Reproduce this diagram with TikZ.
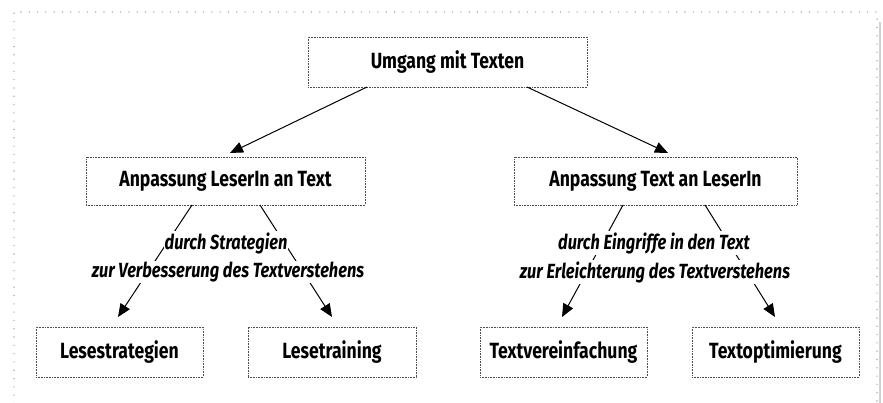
\documentclass[tikz,border=0pt]{standalone}
\usepackage{fontspec}
\setmainfont{Fira Sans}[FakeStretch=0.8]
\usetikzlibrary{arrows.meta}
\begin{document}
\begin{tikzpicture}[
  box/.style={draw=black!70, line width=0.6pt, dash pattern=on 0.6pt off 1pt, fill=white,
    font=\fontsize{22}{24}\selectfont\bfseries, inner sep=0pt},
  lbl/.style={fill=white, inner sep=1pt, font=\fontsize{20.5}{23}\selectfont\bfseries\itshape},
  conn/.style={line width=1pt, -{Triangle[length=13pt,width=11pt]}}]
\useasboundingbox (0pt,0pt) rectangle (883pt,-403pt);
% outer frame
\draw[gray!60, line width=1.6pt, line cap=round, dash pattern=on 0pt off 8.3pt] (14pt,-420pt) -- (14pt,-12pt) -- (877pt,-12pt) -- (877pt,-420pt);
\draw[gray!35, line width=2pt] (879.5pt,-22pt) -- (879.5pt,-420pt);
% boxes
\node[box, minimum width=279pt, minimum height=50pt] (top) at (447.5pt,-62pt) {Umgang mit Texten};
\node[box, minimum width=279pt, minimum height=48pt] (l) at (225.5pt,-181pt) {Anpassung LeserIn an Text};
\node[box, minimum width=283pt, minimum height=48pt] (r) at (655.5pt,-181pt) {Anpassung Text an LeserIn};
\node[box, minimum width=167pt, minimum height=50pt] (ll) at (119.5pt,-352pt) {Lesestrategien};
\node[box, minimum width=168pt, minimum height=50pt] (lr) at (332pt,-352pt) {Lesetraining};
\node[box, minimum width=167pt, minimum height=50pt] (rl) at (563.5pt,-352pt) {Textvereinfachung};
\node[box, minimum width=167pt, minimum height=50pt] (rr) at (775.5pt,-352pt) {Textoptimierung};
% anchor coordinates
\coordinate (t1) at (367pt,-87pt);
\coordinate (t2) at (527pt,-87pt);
\coordinate (t1e) at (230pt,-153pt);
\coordinate (t2e) at (668pt,-153pt);
\coordinate (l1) at (192pt,-205pt);
\coordinate (l2) at (260pt,-205pt);
\coordinate (l1e) at (118pt,-317pt);
\coordinate (l2e) at (332pt,-317pt);
\coordinate (r1) at (623pt,-205pt);
\coordinate (r2) at (705pt,-205pt);
\coordinate (r1e) at (562pt,-317pt);
\coordinate (r2e) at (775pt,-317pt);
% connectors
\draw[conn] (t1) -- (t1e);
\draw[conn] (t2) -- (t2e);
\draw[conn] (l1) -- (l1e);
\draw[conn] (l2) -- (l2e);
\draw[conn] (r1) -- (r1e);
\draw[conn] (r2) -- (r2e);
% labels
\node[lbl] (la1) at (226pt,-243pt) {durch Strategien};
\node[lbl] (la2) at (228pt,-272pt) {zur Verbesserung des Textverstehens};
\node[lbl] (ra1) at (654pt,-243pt) {durch Eingriffe in den Text};
\node[lbl] (ra2) at (655pt,-272pt) {zur Erleichterung des Textverstehens};
\end{tikzpicture}
\end{document}
